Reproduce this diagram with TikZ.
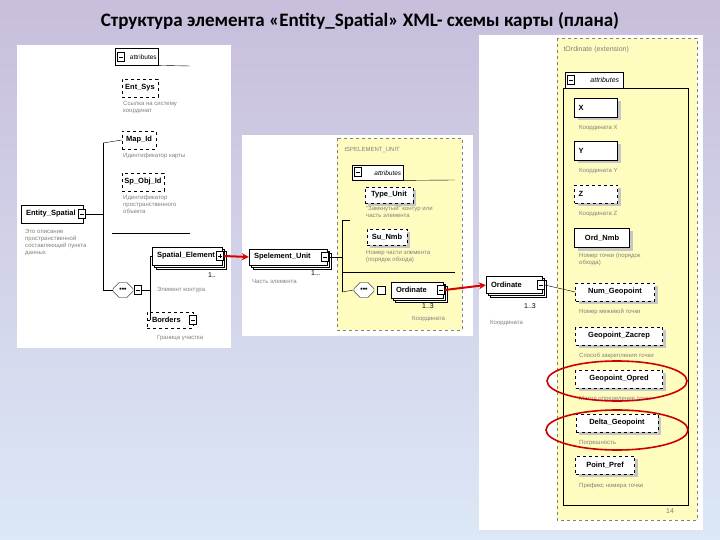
\documentclass[tikz,border=0pt]{standalone}
\usepackage{fontspec}
\setmainfont{Liberation Sans}
\newfontfamily\ttl{Carlito}
\usetikzlibrary{shadows,shapes.misc,arrows.meta}
\begin{document}
\begin{tikzpicture}[x=1pt,y=-1pt,
  el/.style={draw, fill=white, font=\bfseries\fontsize{7.5}{8}\selectfont, inner sep=1pt, minimum height=18},
  sh/.style={drop shadow={shadow xshift=3pt, shadow yshift=-3pt, fill=gray!45, opacity=1}},
  dc/.style={double copy shadow={shadow xshift=2pt, shadow yshift=-2pt}},
  desc/.style={font=\fontsize{6}{7}\selectfont, text=gray, align=left, anchor=north west, inner sep=0pt},
  pm/.style={draw, fill=white, minimum width=7, minimum height=9, inner sep=0pt,
    path picture={\draw ([xshift=-2pt]path picture bounding box.center) -- ([xshift=2pt]path picture bounding box.center);}},
  pl/.style={pm, path picture={\draw ([xshift=-2pt]path picture bounding box.center) -- ([xshift=2pt]path picture bounding box.center); \draw ([yshift=-2pt]path picture bounding box.center) -- ([yshift=2pt]path picture bounding box.center);}},
  ra/.style={draw=red!85!black, line width=2pt, -{Stealth[length=7pt,width=7pt]}},
  ov/.style={draw=red!80!black, line width=1.6pt},
  ch/.style={chamfered rectangle, draw, fill=white, minimum width=20, minimum height=15, inner sep=1pt, font=\bfseries\fontsize{7}{7}\selectfont}]
\shade[top color={rgb,255:red,200;green,190;blue,220}, bottom color={rgb,255:red,220;green,232;blue,246}] (0,0) rectangle (720,540);
\node[font=\ttl\bfseries\fontsize{19}{22}\selectfont] (title) at (360,21) {Структура элемента «Entity\_Spatial» XML- схемы карты (плана)};
% panels
\fill[white] (17,45) rectangle (231,348);
\fill[white] (242,135) rectangle (473,336);
\fill[white] (479,35) rectangle (703,530);
\draw[dashed, fill=yellow!25, draw=gray] (337,138) rectangle (462,330);
\draw[dashed, fill=yellow!25, draw=gray] (557,38) rectangle (697,520);
% ---------- panel 1
\node[el, minimum width=43, minimum height=17, anchor=north west, font=\fontsize{6.5}{8}\selectfont, text width=40, align=right] (att1) at (115,48) {attributes};
\node[pm] (att1m) at (121,57) {};
\draw (att1.south east) -- (190,66);
\node[el, dashed, minimum width=36] (entsys) at (140,88) {Ent\_Sys};
\node[desc] (d1) at (123,101) {Ссылка на систему\\координат};
\node[el, dashed, minimum width=34] (mapid) at (139,140) {Map\_Id};
\node[desc] (d2) at (123,153) {Идентификатор карты};
\node[el, dashed, minimum width=42] (spobj) at (143,182) {Sp\_Obj\_Id};
\node[desc] (d3) at (123,195) {Идентификатор\\пространственного\\объекта};
\node[el, minimum width=62, text width=52] (ent) at (52,214) {Entity\_Spatial};
\node[pm] (entm) at (82,214) {};
\node[desc] (d4) at (25,229) {Это описание\\пространственной\\составляющей пункта\\данных};
\coordinate (b1t) at (103,143); \coordinate (b1b) at (103,290);
\draw (entm.east) -- (103,214);
\draw (b1t) -- (b1b);
\draw (b1t) -- (mapid.west);
\draw (112,233) -- (190,233);
\node[ch] (cho1) at (123,290) {•••};
\node[pm] (cho1m) at (138,290) {};
\draw (b1b) -- (cho1.west);
\node[el, dc, minimum width=70, text width=60] (spel) at (187,256) {Spatial\_Element};
\node[pl] (spelm) at (220,256) {};
\node[font=\fontsize{7}{7}\selectfont] (n1) at (212,275) {1..};
\node[desc] (d5) at (157,287) {Элемент контура};
\node[el, dashed, minimum width=46, minimum height=16, text width=36] (bord) at (170,320) {Borders};
\node[pm] (bordm) at (193,320) {};
\node[desc] (d6) at (157,335) {Граница участка};
\draw (cho1m.east) -- (150,290);
\draw (150,256) -- (150,320);
\draw (150,256) -- (spel.west);
\draw (150,320) -- (bord.west);
% ---------- panel 2
\node[font=\fontsize{6}{7}\selectfont, text=gray, anchor=west] (tsp) at (341,150) {tSPELEMENT\_UNIT};
\node[el, minimum width=51, minimum height=15, anchor=north west, font=\itshape\fontsize{6.5}{8}\selectfont, text width=47, align=right] (att2) at (352,165) {attributes};
\node[pm] (att2m) at (358,172) {};
\draw (att2.south east) -- (455,180);
\node[el, sh, minimum width=48, minimum height=16, dashed] (tu) at (389,195) {Type\_Unit};
\node[desc] (d7) at (366,206) {“Замкнутый” контур или\\часть элемента};
\node[el, sh, minimum width=40, minimum height=16, dashed] (su) at (387,237) {Su\_Nmb};
\node[desc] (d8) at (366,250) {Номер части элемента\\(порядок обхода)};
\draw (342,272) -- (455,272);
\node[el, dc, minimum width=78, minimum height=16, text width=68] (spu) at (288,257) {Spelement\_Unit};
\node[pm] (spum) at (325,257) {};
\node[font=\fontsize{7}{7}\selectfont] (n2) at (316,273) {1...};
\node[desc] (d9) at (252,279) {Часть элемента};
\draw (spum.east) -- (342,257);
\draw (342,220) -- (342,292);
\draw (342,220) -- (350,220);
\node[ch] (cho2) at (364,290) {•••};
\node[draw, fill=white, minimum size=8, inner sep=0pt] (cho2m) at (381,290) {};
\draw (342,292) -- (cho2.west);
\node[el, dc, minimum width=52, minimum height=16, text width=42] (ord2) at (417,290) {Ordinate};
\node[pm] (ord2m) at (441,290) {};
\node[font=\fontsize{7}{7}\selectfont] (n3) at (428,306) {1..3};
\node[desc] (d10) at (412,316) {Координата};
% ---------- panel 3
\node[font=\fontsize{7}{8}\selectfont, text=gray, anchor=west] (tord) at (560,50) {tOrdinate (extension)};
\draw (563,88) rectangle (688,505);
\node[el, minimum width=58, minimum height=16, anchor=north west, font=\itshape\fontsize{7}{8}\selectfont, text width=50, align=right] (att3) at (565,72) {attributes};
\node[pm] (att3m) at (571,80) {};
\node[el, sh, minimum width=43, minimum height=19, text width=35] (xx) at (596,108) {X};
\node[desc] (dx) at (579,125) {Координата X};
\node[el, sh, minimum width=43, minimum height=19, text width=35] (yy) at (596,151) {Y};
\node[desc] (dy) at (579,168) {Координата Y};
\node[el, sh, dashed, minimum width=43, minimum height=18, text width=35] (zz) at (596,194) {Z};
\node[desc] (dz) at (579,211) {Координата Z};
\node[el, sh, minimum width=55, minimum height=19] (on) at (602,238) {Ord\_Nmb};
\node[desc] (don) at (579,253) {Номер точки (порядок\\обхода)};
\node[el, sh, dashed, minimum width=79] (ng) at (615,292) {Num\_Geopoint};
\node[desc] (dng) at (579,309) {Номер межевой точки};
\node[el, sh, dashed, minimum width=87] (gz) at (619,336) {Geopoint\_Zacrep};
\node[desc] (dgz) at (579,353) {Способ закрепления точки};
\node[el, sh, dashed, minimum width=87] (go) at (619,379) {Geopoint\_Opred};
\node[desc] (dgo) at (579,396) {Метод определения точки};
\node[el, sh, dashed, minimum width=82] (dg) at (617,423) {Delta\_Geopoint};
\node[desc] (ddg) at (579,440) {Погрешность};
\node[el, sh, dashed, minimum width=59] (pp) at (605,465) {Point\_Pref};
\node[desc] (dpp) at (579,483) {Префикс номера точки};
\node[el, dc, minimum width=56, minimum height=17, text width=46] (ord3) at (514,285) {Ordinate};
\node[pm] (ord3m) at (541,285) {};
\node[font=\fontsize{7}{7}\selectfont] (n4) at (530,306) {1..3};
\node[desc] (d11) at (490,320) {Координата};
\draw (ord3m.east) -- (ng.west);
\node[font=\fontsize{7}{8}\selectfont, text=gray] (pg) at (670,511) {14};
\draw[ov] (617,381) ellipse (70 and 20);
\draw[ov] (617,430) ellipse (71 and 20);
% red arrows
\draw[ra] (spelm.east) -- (spu.west);
\draw[ra] (ord2m.east) -- (ord3.west);
\end{tikzpicture}
\end{document}
